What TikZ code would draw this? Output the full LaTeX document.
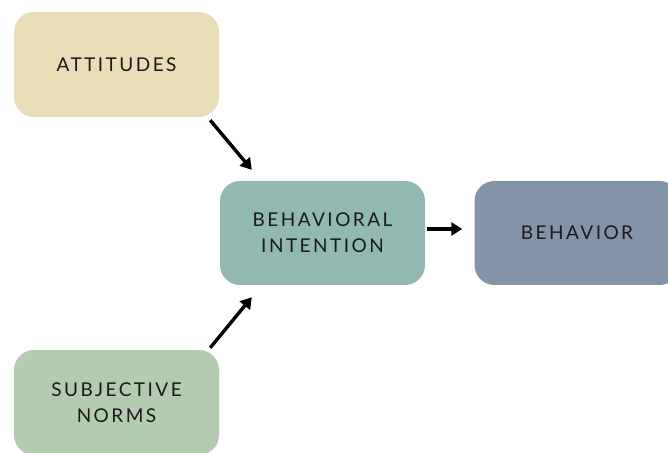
\documentclass[tikz,border=0pt]{standalone}
\usepackage{fontspec}
\setmainfont{Lato}[LetterSpace=13]
\usetikzlibrary{arrows.meta}
\definecolor{cAtt}{HTML}{E8DDB6}
\definecolor{cInt}{HTML}{92B8B1}
\definecolor{cBeh}{HTML}{8494A7}
\definecolor{cSub}{HTML}{B3CBAE}
\definecolor{cTxt}{HTML}{1A1A1A}
\tikzset{
  box/.style={rounded corners=20pt, minimum width=205pt, minimum height=105pt, inner sep=0pt, align=center, text=cTxt, font=\fontsize{19}{26}\selectfont},
  arr/.style={line width=3.4pt, -{Triangle[width=13pt,length=11pt]}}
}
\begin{document}
\begin{tikzpicture}[x=1pt,y=1pt]
\useasboundingbox (0,0) rectangle (668,452);
\clip (0,0) rectangle (668,452);
\node[box, fill=cAtt] (att) at (116.5,387.5) {ATTITUDES};
\node[box, fill=cInt, minimum height=104pt] (int) at (322.5,219) {BEHAVIORAL\\INTENTION};
\node[box, fill=cBeh, minimum height=104pt] (beh) at (577,219) {BEHAVIOR};
\node[box, fill=cSub] (sub) at (116.5,49.5) {SUBJECTIVE\\NORMS};
\draw[arr] ([shift={(-9,-3)}]att.south east) -- ([shift={(32,11)}]int.north west);
\draw[arr] ([shift={(-9,2)}]sub.north east) -- ([shift={(32,-12)}]int.south west);
\draw[arr] ([shift={(2,4)}]int.east) -- ([shift={(-12,4)}]beh.west);
\end{tikzpicture}
\end{document}
